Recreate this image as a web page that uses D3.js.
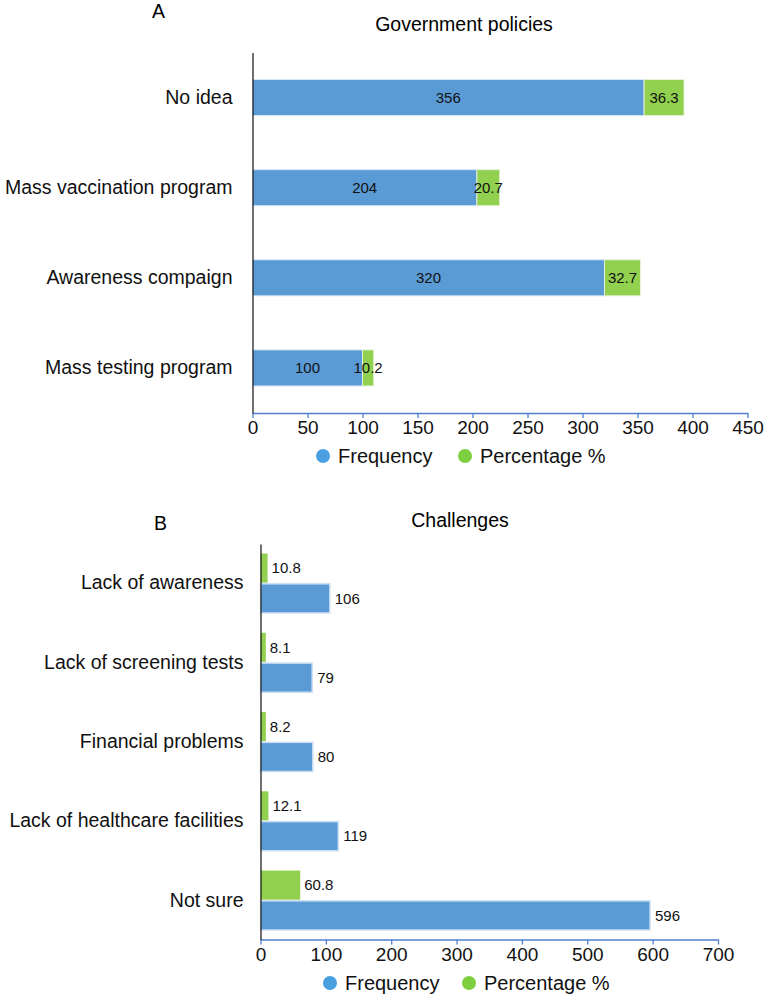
<!DOCTYPE html>
<html>
<head>
<meta charset="utf-8">
<script src="https://cdn.jsdelivr.net/npm/d3@7"></script>
<style>
  body { margin: 0; background: #fff; }
  svg { font-family: "Liberation Sans", Arial, sans-serif; }
  .cat text { font-size: 19.5px; fill: #111; }
  .xax text { font-size: 19px; fill: #111; }
</style>
</head>
<body>
<div id="chart"></div>
<script>
// data
var policyCats = ["No idea", "Mass vaccination program", "Awareness compaign", "Mass testing program"];
var policyFreq = [356, 204, 320, 100];
var policyPct = [36.3, 20.7, 32.7, 10.2];
var policyTicks = [0, 50, 100, 150, 200, 250, 300, 350, 400, 450];

var challengeCats = ["Lack of awareness", "Lack of screening tests", "Financial problems", "Lack of healthcare facilities", "Not sure"];
var challengeFreq = [106, 79, 80, 119, 596];
var challengePct = [10.8, 8.1, 8.2, 12.1, 60.8];
var challengeTicks = [0, 100, 200, 300, 400, 500, 600, 700];

var seriesNames = ["Frequency", "Percentage %"];

var blue = "#5b9bd5", green = "#92d050";
var legendBlue = "#4a9fe0", legendGreen = "#7ecf3f";
var axisBlue = "#4f7fd0";

var svg = d3.select("#chart").append("svg")
  .attr("width", 767)
  .attr("height", 999);

// ---------- panel A : stacked bars ----------
var xA = d3.scaleLinear().domain([0, 450]).range([252.5, 747.5]);
var yA = d3.scaleBand().domain(policyCats).range([52.5, 413])
  .paddingInner(0.6).paddingOuter(0.3);

svg.append("text").attr("x", 152).attr("y", 18).attr("font-size", 19.5).text("A");
svg.append("text").attr("x", 464).attr("y", 31).attr("text-anchor", "middle")
  .attr("font-size", 19.5).text("Government policies");

var rowsA = policyCats.map(function(c, i) { return {cat: c, freq: policyFreq[i], pct: policyPct[i]}; });

var gA = svg.append("g");
gA.selectAll("rect.f").data(rowsA).enter().append("rect")
  .attr("x", xA(0))
  .attr("y", d => yA(d.cat))
  .attr("width", d => xA(d.freq) - xA(0))
  .attr("height", yA.bandwidth())
  .attr("fill", blue)
  .attr("stroke", "#d7e6f4").attr("stroke-width", 1);

gA.selectAll("rect.p").data(rowsA).enter().append("rect")
  .attr("x", d => xA(d.freq))
  .attr("y", d => yA(d.cat))
  .attr("width", d => xA(d.freq + d.pct) - xA(d.freq))
  .attr("height", yA.bandwidth())
  .attr("fill", green)
  .attr("stroke", "#e4f1d6").attr("stroke-width", 1);

gA.selectAll("text.f").data(rowsA).enter().append("text")
  .attr("x", d => (xA(0) + xA(d.freq)) / 2)
  .attr("y", d => yA(d.cat) + yA.bandwidth() / 2)
  .attr("dy", "0.35em")
  .attr("text-anchor", "middle")
  .attr("font-size", 15).attr("fill", "#111")
  .text(d => d.freq);

gA.selectAll("text.p").data(rowsA).enter().append("text")
  .attr("x", d => (xA(d.freq) + xA(d.freq + d.pct)) / 2)
  .attr("y", d => yA(d.cat) + yA.bandwidth() / 2)
  .attr("dy", "0.35em")
  .attr("text-anchor", "middle")
  .attr("font-size", 15).attr("fill", "#111")
  .text(d => d.pct);

var axA = svg.append("g").attr("class", "xax")
  .attr("transform", "translate(0,413)")
  .call(d3.axisBottom(xA).tickValues(policyTicks).tickSize(5).tickSizeOuter(0).tickPadding(3));
axA.selectAll("path, line").attr("stroke", axisBlue).attr("stroke-width", 1.3);

var catA = svg.append("g").attr("class", "cat")
  .attr("transform", "translate(252.5,0)")
  .call(d3.axisLeft(yA).tickSize(0).tickSizeOuter(0).tickPadding(20));
catA.select(".domain").attr("stroke", "#222").attr("stroke-width", 1.3);

function legend(y, cx) {
  var lg = svg.append("g");
  seriesNames.forEach(function(n, i) {
    lg.append("circle").attr("cx", cx[i]).attr("cy", y).attr("r", 7)
      .attr("fill", i === 0 ? legendBlue : legendGreen);
    lg.append("text").attr("x", cx[i] + 15).attr("y", y).attr("dy", "0.35em")
      .attr("font-size", 20).attr("fill", "#111").text(n);
  });
}
legend(456, [323, 465]);

// ---------- panel B : grouped bars ----------
var xB = d3.scaleLinear().domain([0, 700]).range([260.5, 718]);
var yB = d3.scaleBand().domain(challengeCats).range([544, 939.5])
  .paddingInner(0.25).paddingOuter(0.12);
var sub = d3.scaleBand().domain(["pct", "freq"]).range([0, yB.bandwidth()]).paddingInner(0.04);

svg.append("text").attr("x", 154).attr("y", 530).attr("font-size", 19.5).text("B");
svg.append("text").attr("x", 460).attr("y", 527).attr("text-anchor", "middle")
  .attr("font-size", 19.5).text("Challenges");

var rowsB = challengeCats.map(function(c, i) { return {cat: c, freq: challengeFreq[i], pct: challengePct[i]}; });

var gB = svg.append("g");
gB.selectAll("rect.p").data(rowsB).enter().append("rect")
  .attr("x", xB(0))
  .attr("y", d => yB(d.cat) + sub("pct"))
  .attr("width", d => xB(d.pct) - xB(0))
  .attr("height", sub.bandwidth())
  .attr("fill", green);

gB.selectAll("rect.f").data(rowsB).enter().append("rect")
  .attr("x", xB(0))
  .attr("y", d => yB(d.cat) + sub("freq"))
  .attr("width", d => xB(d.freq) - xB(0))
  .attr("height", sub.bandwidth())
  .attr("fill", blue)
  .attr("stroke", "#c9ddf2").attr("stroke-width", 1.5);

gB.selectAll("text.p").data(rowsB).enter().append("text")
  .attr("x", d => xB(d.pct) + 4)
  .attr("y", d => yB(d.cat) + sub("pct") + sub.bandwidth() / 2)
  .attr("dy", "0.35em")
  .attr("font-size", 15).attr("fill", "#111")
  .text(d => d.pct);

gB.selectAll("text.f").data(rowsB).enter().append("text")
  .attr("x", d => xB(d.freq) + 5)
  .attr("y", d => yB(d.cat) + sub("freq") + sub.bandwidth() / 2)
  .attr("dy", "0.35em")
  .attr("font-size", 15).attr("fill", "#111")
  .text(d => d.freq);

var axB = svg.append("g").attr("class", "xax")
  .attr("transform", "translate(0,939.5)")
  .call(d3.axisBottom(xB).tickValues(challengeTicks).tickSize(5).tickSizeOuter(0).tickPadding(3));
axB.selectAll("path, line").attr("stroke", axisBlue).attr("stroke-width", 1.3);

var catB = svg.append("g").attr("class", "cat")
  .attr("transform", "translate(260.5,0)")
  .call(d3.axisLeft(yB).tickSize(0).tickSizeOuter(0).tickPadding(17));
catB.select(".domain").attr("stroke", "#222").attr("stroke-width", 1.3);

legend(983, [330, 469]);
</script>
</body>
</html>
